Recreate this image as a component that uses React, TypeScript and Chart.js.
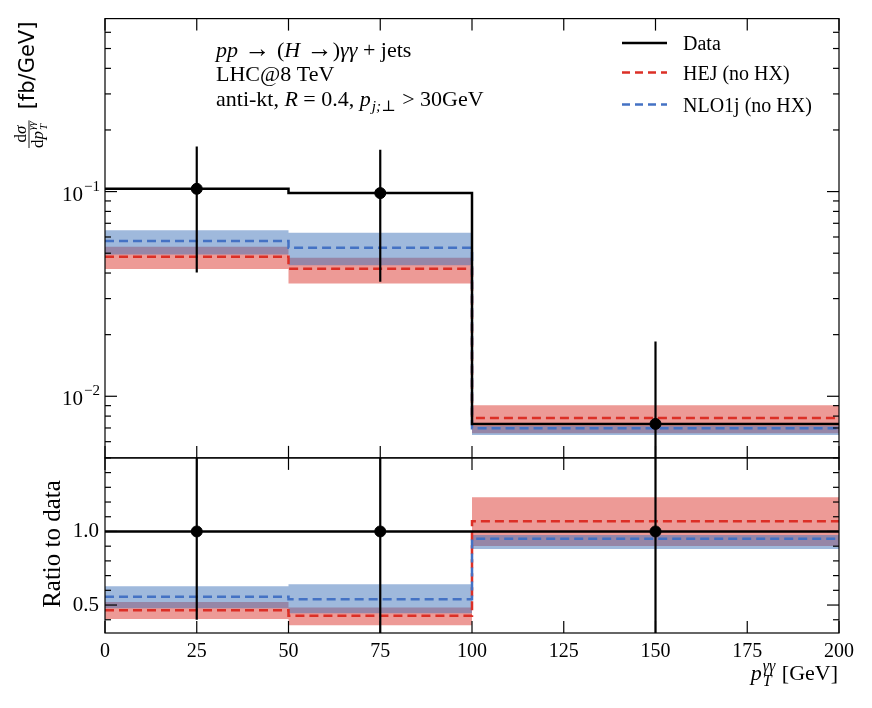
import React, { useEffect, useRef } from 'react'
import Chart from 'chart.js/auto'

// bin edges and centres in pT [GeV]
const binEdges = [0, 50, 100, 200]
const binCenters = [25, 75, 150]

// measured cross section [fb/GeV]
const dataVals = [0.1032, 0.0983, 0.00733]
const dataErr = [0.063, 0.062, 0.0112]
const ratioErr = [0.6, 0.7, 2.5]

// HEJ (no HX)
const hejVals = [0.048, 0.042, 0.00784]
const hejLow = [0.0418, 0.0356, 0.0066]
const hejHigh = [0.0537, 0.0475, 0.00904]

// NLO1j (no HX)
const nloVals = [0.0574, 0.0531, 0.00697]
const nloLow = [0.0493, 0.0437, 0.00646]
const nloHigh = [0.0647, 0.063, 0.00715]

const xTicks = [0, 25, 50, 75, 100, 125, 150, 175, 200]
const logTicks = [0.01, 0.1]
const ratioTicks = [0.5, 1.0]
const ratioMinor = [0.4, 0.6, 0.7, 0.8, 0.9, 1.1, 1.2, 1.3, 1.4]

const yMin = 0.005
const yMax = 0.7
const rMin = 0.31
const rMax = 1.5

const RED = '#dc2f26'
const BLUE = '#4472c4'
const RED_BAND = 'rgba(220,53,45,0.5)'
const BLUE_BAND = 'rgba(63,115,185,0.5)'

const serif = "'Liberation Serif', 'DejaVu Serif', serif"
const sans = "'DejaVu Sans', sans-serif"

const steps = (vals: number[]) =>
  binEdges.map((e, i) => ({ x: e, y: vals[Math.min(i, vals.length - 1)] }))

const toRatio = (vals: number[]) => vals.map((v, i) => v / dataVals[i])

const clamp = (v: number, lo: number, hi: number) => Math.min(hi, Math.max(lo, v))

const errBars = (lows: number[], highs: number[]) =>
  binCenters.flatMap((c, i) => [
    { x: c, y: lows[i] },
    { x: c, y: highs[i] },
    { x: c, y: null as any }
  ])

const stepLine = (vals: number[], axis: string, color: string, dashed: boolean, order: number) => ({
  type: 'line' as const,
  data: steps(vals),
  yAxisID: axis,
  borderColor: color,
  borderWidth: 2.5,
  borderDash: dashed ? [9, 5] : [],
  stepped: true,
  pointRadius: 0,
  fill: false,
  order
})

const band = (lo: number[], hi: number[], axis: string, color: string, order: number) => [
  {
    type: 'line' as const,
    data: steps(lo),
    yAxisID: axis,
    borderWidth: 0,
    borderColor: 'rgba(0,0,0,0)',
    stepped: true,
    pointRadius: 0,
    fill: false,
    order
  },
  {
    type: 'line' as const,
    data: steps(hi),
    yAxisID: axis,
    borderWidth: 0,
    borderColor: 'rgba(0,0,0,0)',
    backgroundColor: color,
    stepped: true,
    pointRadius: 0,
    fill: '-1',
    order
  }
]

type Seg = { t: string; it?: boolean; sz?: number; sub?: string; sup?: string; subIt?: boolean; supIt?: boolean }

function setFont(ctx: CanvasRenderingContext2D, size: number, italic: boolean, fam = serif) {
  ctx.font = `${italic ? 'italic ' : ''}${size}px ${fam}`
}

function drawRich(ctx: CanvasRenderingContext2D, segs: Seg[], x: number, y: number, size: number,
  align: 'left' | 'right' | 'center' = 'left', small = size * 0.7) {
  const parts = segs.map((s) => {
    setFont(ctx, s.sz ?? size, !!s.it)
    const wt = ctx.measureText(s.t).width
    let ws = 0
    if (s.sub) { setFont(ctx, small, !!s.subIt); ws = ctx.measureText(s.sub).width }
    if (s.sup) { setFont(ctx, small, !!s.supIt); ws = Math.max(ws, ctx.measureText(s.sup).width) }
    return { wt, ws: ws ? ws + 2 : 0 }
  })
  const w = parts.reduce((a, p) => a + p.wt + p.ws, 0)
  let cx = align === 'left' ? x : align === 'right' ? x - w : x - w / 2
  ctx.textAlign = 'left'
  ctx.textBaseline = 'alphabetic'
  segs.forEach((s, i) => {
    setFont(ctx, s.sz ?? size, !!s.it)
    ctx.fillText(s.t, cx, y)
    cx += parts[i].wt
    if (s.sub) { setFont(ctx, small, !!s.subIt); ctx.fillText(s.sub, cx + 1, y + size * 0.26) }
    if (s.sup) { setFont(ctx, small, !!s.supIt); ctx.fillText(s.sup, cx + 1, y - size * 0.42) }
    cx += parts[i].ws
  })
  return w
}

const decor = {
  id: 'decor',
  afterDraw(chart: any) {
    const { ctx } = chart
    const xs = chart.scales.x
    const yl = chart.scales.y
    const yr = chart.scales.yr
    const L = xs.left
    const R = xs.right
    const seg = (x1: number, y1: number, x2: number, y2: number) => {
      ctx.beginPath(); ctx.moveTo(x1, y1); ctx.lineTo(x2, y2); ctx.stroke()
    }
    ctx.save()
    ctx.strokeStyle = '#000'
    ctx.lineWidth = 1.2
    ctx.setLineDash([])
    for (const s of [yl, yr]) {
      ctx.strokeRect(L, s.top, R - L, s.bottom - s.top)
      for (const v of xTicks) {
        const px = xs.getPixelForValue(v)
        seg(px, s.top, px, s.top + 12)
        seg(px, s.bottom, px, s.bottom - 12)
      }
    }
    for (let d = -3; d <= 0; d++) {
      for (let k = 1; k <= 9; k++) {
        const v = k * Math.pow(10, d)
        if (v < yMin || v > yMax) continue
        const py = yl.getPixelForValue(v)
        const len = k === 1 ? 12 : 6
        seg(L, py, L + len, py)
        seg(R, py, R - len, py)
      }
    }
    for (const v of ratioTicks) {
      const py = yr.getPixelForValue(v)
      seg(L, py, L + 12, py); seg(R, py, R - 12, py)
    }
    for (const v of ratioMinor) {
      const py = yr.getPixelForValue(v)
      seg(L, py, L + 6, py); seg(R, py, R - 6, py)
    }

    ctx.fillStyle = '#000'
    // log axis labels 10^n
    for (const t of yl.ticks) {
      const py = yl.getPixelForValue(t.value)
      const e = Math.round(Math.log10(t.value))
      setFont(ctx, 21, false)
      ctx.textAlign = 'right'
      ctx.textBaseline = 'alphabetic'
      ctx.fillText('10', 83, py + 9)
      setFont(ctx, 15, false)
      ctx.textAlign = 'left'
      ctx.fillText('\u2212' + String(Math.abs(e)), 84, py - 1)
    }

    // process description
    drawRich(ctx, [{ t: 'pp', it: true }, { t: ' → ', sz: 26 }, { t: '(' }, { t: 'H', it: true },
      { t: ' →', sz: 26 }, { t: ')' }, { t: 'γγ', it: true }, { t: ' + jets' }], 216, 57, 22)
    drawRich(ctx, [{ t: 'LHC@8 TeV' }], 216, 81, 22)
    drawRich(ctx, [{ t: 'anti-kt, ' }, { t: 'R', it: true }, { t: ' = 0.4, ' },
      { t: 'p', it: true, sub: 'j;⊥', subIt: true }, { t: ' > 30GeV' }], 216, 105.5, 22)

    // legend
    const legend = [
      { label: 'Data', color: '#000', dash: [] as number[], y: 43 },
      { label: 'HEJ (no HX)', color: RED, dash: [8, 5], y: 72.5 },
      { label: 'NLO1j (no HX)', color: BLUE, dash: [8, 5], y: 104.5 }
    ]
    for (const item of legend) {
      ctx.strokeStyle = item.color
      ctx.lineWidth = 2.5
      ctx.setLineDash(item.dash)
      seg(622, item.y, 667, item.y)
      ctx.setLineDash([])
      drawRich(ctx, [{ t: item.label }], 683, item.y + 7, 20)
    }

    // x title
    drawRich(ctx, [{ t: 'p', it: true, sub: 'T', sup: 'γγ', subIt: true, supIt: true }, { t: ' [GeV]' }],
      838, 680, 22, 'right', 16)

    // ratio title
    ctx.save()
    ctx.translate(53, 544)
    ctx.rotate(-Math.PI / 2)
    setFont(ctx, 25, false)
    ctx.textAlign = 'center'
    ctx.textBaseline = 'middle'
    ctx.fillText('Ratio to data', 0, 0)
    ctx.restore()

    // top y title
    ctx.save()
    ctx.translate(29, 149)
    ctx.rotate(-Math.PI / 2)
    const den: Seg[] = [{ t: 'd' }, { t: 'p', it: true, sub: 'T', sup: 'γγ', subIt: true, supIt: true }]
    const fw = drawRich(ctx, den, 1, 13.5, 17, 'left', 11)
    drawRich(ctx, [{ t: 'd' }, { t: 'σ', it: true }], 1 + fw / 2, -3.5, 17, 'center')
    ctx.strokeStyle = '#000'
    ctx.lineWidth = 0.9
    seg(1, 0, 1 + fw, 0)
    setFont(ctx, 21, false, sans)
    ctx.textAlign = 'left'
    ctx.textBaseline = 'middle'
    ctx.fillText('[fb/GeV]', fw + 12, 0)
    ctx.restore()

    ctx.restore()
  }
}

const App: React.FC = () => {
  const chartRef = useRef<HTMLCanvasElement | null>(null)
  const chartInstance = useRef<Chart | null>(null)

  useEffect(() => {
    if (chartRef.current === null) return
    if (chartInstance.current !== null) chartInstance.current.destroy()
    const ctx = chartRef.current.getContext('2d')
    if (ctx === null) return

    const ones = toRatio(dataVals)

    const datasets: any[] = [
      // upper panel
      ...band(hejLow, hejHigh, 'y', RED_BAND, 20),
      ...band(nloLow, nloHigh, 'y', BLUE_BAND, 19),
      stepLine(hejVals, 'y', RED, true, 11),
      stepLine(nloVals, 'y', BLUE, true, 10),
      stepLine(dataVals, 'y', '#000', false, 5),
      {
        type: 'line',
        data: errBars(
          dataVals.map((v, i) => clamp(v - dataErr[i], yMin, yMax)),
          dataVals.map((v, i) => clamp(v + dataErr[i], yMin, yMax))
        ),
        yAxisID: 'y',
        borderColor: '#000',
        borderWidth: 2.2,
        pointRadius: 0,
        spanGaps: false,
        fill: false,
        order: 4
      },
      {
        type: 'line',
        data: binCenters.map((c, i) => ({ x: c, y: dataVals[i] })),
        yAxisID: 'y',
        showLine: false,
        pointRadius: 5.5,
        pointBackgroundColor: '#000',
        pointBorderColor: '#000',
        order: 3
      },
      // ratio panel
      ...band(toRatio(hejLow), toRatio(hejHigh), 'yr', RED_BAND, 20),
      ...band(toRatio(nloLow), toRatio(nloHigh), 'yr', BLUE_BAND, 19),
      stepLine(toRatio(hejVals), 'yr', RED, true, 11),
      stepLine(toRatio(nloVals), 'yr', BLUE, true, 10),
      stepLine(ones, 'yr', '#000', false, 5),
      {
        type: 'line',
        data: errBars(
          ones.map((v, i) => clamp(v - ratioErr[i], rMin, rMax)),
          ones.map((v, i) => clamp(v + ratioErr[i], rMin, rMax))
        ),
        yAxisID: 'yr',
        borderColor: '#000',
        borderWidth: 2.2,
        pointRadius: 0,
        spanGaps: false,
        fill: false,
        order: 4
      },
      {
        type: 'line',
        data: binCenters.map((c, i) => ({ x: c, y: ones[i] })),
        yAxisID: 'yr',
        showLine: false,
        pointRadius: 5.5,
        pointBackgroundColor: '#000',
        pointBorderColor: '#000',
        order: 3
      }
    ]

    const tickFont = { family: serif, size: 20 }

    chartInstance.current = new Chart(ctx, {
      type: 'line',
      data: { datasets },
      options: {
        responsive: true,
        maintainAspectRatio: false,
        animation: false,
        events: [],
        layout: { padding: { left: 0, top: 15.5, right: 33, bottom: 0 } },
        plugins: {
          legend: { display: false },
          tooltip: { enabled: false }
        },
        scales: {
          x: {
            type: 'linear',
            min: 0,
            max: 200,
            afterBuildTicks: (s: any) => { s.ticks = xTicks.map((value) => ({ value })) },
            afterFit: (s: any) => { s.height = 75 },
            ticks: { font: tickFont, color: '#000', padding: 7, maxRotation: 0, autoSkip: false },
            grid: { display: false, drawTicks: false },
            border: { display: false }
          },
          yr: {
            type: 'linear',
            position: 'left',
            stack: 'v',
            stackWeight: 176,
            min: rMin,
            max: rMax,
            afterBuildTicks: (s: any) => { s.ticks = ratioTicks.map((value) => ({ value })) },
            afterFit: (s: any) => { s.width = 105 },
            ticks: {
              font: { family: serif, size: 21 },
              color: '#000',
              padding: 6,
              autoSkip: false,
              callback: (v: any) => Number(v).toFixed(1)
            },
            grid: { display: false, drawTicks: false },
            border: { display: false }
          },
          y: {
            type: 'logarithmic',
            position: 'left',
            stack: 'v',
            stackWeight: 441.5,
            min: yMin,
            max: yMax,
            afterBuildTicks: (s: any) => { s.ticks = logTicks.map((value) => ({ value })) },
            afterFit: (s: any) => { s.width = 105 },
            ticks: { display: false },
            grid: { display: false, drawTicks: false },
            border: { display: false }
          }
        }
      },
      plugins: [decor]
    } as any)

    return () => {
      if (chartInstance.current !== null) {
        chartInstance.current.destroy()
        chartInstance.current = null
      }
    }
  }, [])

  return (
    <div style={{ position: 'absolute', left: 0, top: 0, width: 872, height: 708, background: '#fff' }}>
      <canvas ref={chartRef} />
    </div>
  )
}

export default App
